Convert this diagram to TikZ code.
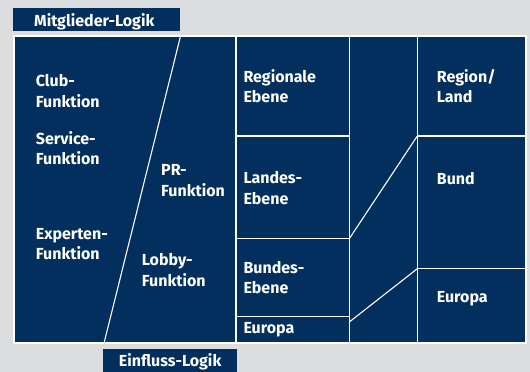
\documentclass[tikz,border=0pt]{standalone}
\usepackage{fontspec}
\setmainfont{Fira Sans}
\definecolor{navy}{RGB}{2,47,94}
\definecolor{paper}{RGB}{220,221,222}
\begin{document}
\begin{tikzpicture}[x=1pt,y=-1pt,
  sep/.style={draw=white,line width=1.1pt},
  lbl/.style={anchor=base west,inner sep=0pt,text=white,align=left,
    font=\fontsize{16}{20.3}\selectfont\bfseries},
  tag/.style={fill=navy,inner sep=0pt}]
\useasboundingbox (0,0) rectangle (530,372);
\fill[paper] (0,0) rectangle (530,372);
% outer frame
\fill[white] (13,34.5) rectangle (527,344);
\fill[navy] (15,37) rectangle (524.5,342);
% column boundaries
\coordinate (c1t) at (236,37);   \coordinate (c1b) at (236,342);
\coordinate (c2t) at (349.3,37); \coordinate (c2b) at (349.3,342);
\coordinate (c3t) at (417.3,37); \coordinate (c3b) at (417.3,342);
\draw[sep] (c1t) -- (c1b);
\draw[sep] (c2t) -- (c2b);
\draw[sep] (c3t) -- (c3b);
% row boundaries of the levels column
\coordinate (l1a) at (236,136);   \coordinate (l1b) at (349.3,136);
\coordinate (l2a) at (236,238.7); \coordinate (l2b) at (349.3,238.7);
\coordinate (l3a) at (236,316.7); \coordinate (l3b) at (349.3,316.7);
\draw[sep] (l1a) -- (l1b);
\draw[sep] (l2a) -- (l2b);
\draw[sep] (l3a) -- (l3b);
% row boundaries of the region column
\coordinate (r1a) at (417.3,136);   \coordinate (r1b) at (524.5,136);
\coordinate (r2a) at (417.3,268.7); \coordinate (r2b) at (524.5,268.7);
\draw[sep] (r1a) -- (r1b);
\draw[sep] (r2a) -- (r2b);
% links between the two columns
\coordinate (k1) at (349.3,322);
\draw[sep] (l2b) -- (r1a);
\draw[sep] (k1) -- (r2a);
% slanted divider of the functions
\coordinate (dt) at (180.3,37);
\coordinate (db) at (104.3,342);
\draw[sep] (dt) -- (db);
% header tags
\node[tag,minimum width=167pt,minimum height=22.7pt,anchor=north west] (mtag) at (13,8) {};
\node[lbl] (mtxt) at (34,26) {Mitglieder-Logik};
\node[tag,minimum width=133.7pt,minimum height=23pt,anchor=north west] (etag) at (103,349) {};
\node[lbl] (etxt) at (118.7,366) {Einfluss-Logik};
% function labels (anchored at the baseline of the last line)
\node[lbl] (club) at (35.7,107) {Club-\\Funktion};
\node[lbl] (serv) at (35.7,164.3) {Service-\\Funktion};
\node[lbl] (expt) at (35.7,259.7) {Experten-\\Funktion};
\node[lbl] (pr) at (161,196) {PR-\\Funktion};
\node[lbl] (lobby) at (141.7,286) {Lobby-\\Funktion};
% level labels
\node[lbl] (reg) at (243.3,102.5) {Regionale\\Ebene};
\node[lbl] (land) at (243.3,204) {Landes-\\Ebene};
\node[lbl] (bund) at (243.3,293.5) {Bundes-\\Ebene};
\node[lbl] (eur) at (243.3,333) {Europa};
% region labels
\node[lbl] (rl) at (436.7,102.5) {Region/\\Land};
\node[lbl] (bd) at (436.7,184) {Bund};
\node[lbl] (eu) at (436.7,302.7) {Europa};
\end{tikzpicture}
\end{document}
